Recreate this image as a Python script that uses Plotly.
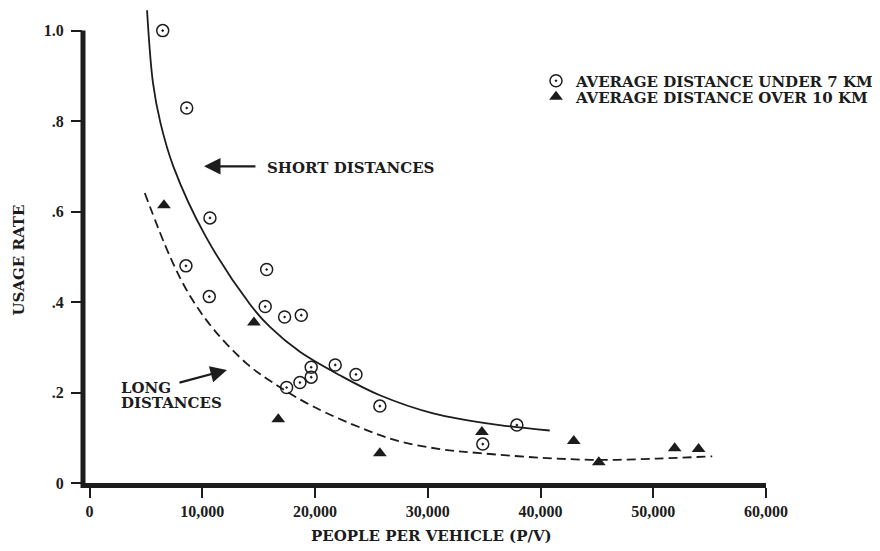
import plotly.graph_objects as go

# ---- data ----
short_x = [6490, 8620, 10680, 8550, 10620, 15710, 15580, 17300, 18780, 19660, 19660,
           18660, 17480, 21790, 23630, 25750, 34880, 37900]
short_y = [1.0, 0.829, 0.586, 0.480, 0.412, 0.472, 0.390, 0.367, 0.371, 0.256, 0.234,
           0.222, 0.211, 0.261, 0.240, 0.170, 0.086, 0.128]

long_x = [6600, 14580, 16740, 25750, 34800, 42950, 45170, 51900, 54020]
long_y = [0.614, 0.355, 0.141, 0.066, 0.113, 0.093, 0.046, 0.077, 0.075]

short_curve_x = [5100, 5630, 6290, 7430, 10240, 14230, 16000, 18660,
                 22210, 25750, 30480, 36390, 40820]
short_curve_y = [1.045, 0.884, 0.796, 0.700, 0.548, 0.395, 0.345, 0.290,
                 0.238, 0.194, 0.154, 0.128, 0.116]

long_curve_x = [4900, 7200, 9000, 11100, 13940, 16300, 19840, 24570, 27530, 31070,
                34630, 39960, 45170, 50350, 55230]
long_curve_y = [0.641, 0.497, 0.410, 0.337, 0.264, 0.221, 0.169, 0.117, 0.092, 0.075,
                0.066, 0.056, 0.051, 0.054, 0.059]

x_tickvals = [0, 10000, 20000, 30000, 40000, 50000, 60000]
x_ticktext = ["0", "10,000", "20,000", "30,000", "40,000", "50,000", "60,000"]
y_tickvals = [0, 0.2, 0.4, 0.6, 0.8, 1.0]
y_ticktext = ["0", ".2", ".4", ".6", ".8", "1.0"]

INK = "#1c1c1c"
X_RANGE = [-580, 60000]
Y_RANGE = [0, 1.05]

fig = go.Figure()

fig.add_trace(go.Scatter(
    x=short_curve_x, y=short_curve_y, mode="lines", line_shape="spline",
    line=dict(color=INK, width=1.8), showlegend=False, hoverinfo="skip"))
fig.add_trace(go.Scatter(
    x=long_curve_x, y=long_curve_y, mode="lines", line_shape="spline",
    line=dict(color=INK, width=1.8, dash="9px,5px"), showlegend=False, hoverinfo="skip"))

fig.add_trace(go.Scatter(
    x=short_x, y=short_y, mode="markers", name="AVERAGE DISTANCE UNDER 7 KM",
    marker=dict(symbol="circle-open-dot", size=12, color=INK, line=dict(width=1.5)),
    legend="legend"))
fig.add_trace(go.Scatter(
    x=long_x, y=long_y, mode="markers", name="AVERAGE DISTANCE OVER 10 KM",
    marker=dict(symbol="triangle-up", size=12, color=INK),
    legend="legend2"))

# page body has an 8px margin; figure is sized so it ends at the window edge
PAGE = 8
W, H = 880 - PAGE, 551 - PAGE
L, R, T, B = 75, 114, 0, 68
pw, ph = W - L - R, H - T - B


def px2paper(sx, sy):
    """screen pixel -> paper coordinate"""
    return (sx - PAGE - L) / pw, (H - B + PAGE - sy) / ph


lfont = dict(family="DejaVu Serif", size=15, color=INK, weight="bold")
tfont = dict(family="Liberation Serif", size=16, color=INK, weight="bold")

lx, ly1 = px2paper(536, 81)
_, ly2 = px2paper(536, 97)
legend_common = dict(xanchor="left", yanchor="middle", bgcolor="rgba(0,0,0,0)",
                     borderwidth=0, font=lfont, itemsizing="trace")

fig.update_layout(
    width=W, height=H,
    margin=dict(l=L, r=R, t=T, b=B),
    paper_bgcolor="white", plot_bgcolor="white",
    legend=dict(x=lx, y=ly1, **legend_common),
    legend2=dict(x=lx, y=ly2, **legend_common),
    xaxis=dict(range=X_RANGE, showgrid=False, zeroline=False,
               showline=True, linewidth=5, linecolor=INK,
               ticks="outside", ticklen=10, tickwidth=2, tickcolor=INK,
               tickvals=x_tickvals, ticktext=x_ticktext, tickfont=tfont),
    yaxis=dict(range=Y_RANGE, showgrid=False, zeroline=False, showline=False,
               ticks="outside", ticklen=11, tickwidth=2, tickcolor=INK,
               tickvals=y_tickvals, ticktext=y_ticktext, tickfont=tfont,
               ticklabelstandoff=4),
)

# y axis line: stops at 1.0 while the curve rises above it
fig.add_shape(type="line", xref="paper", yref="paper",
              x0=0, x1=0, y0=-0.0105, y1=1.0 / Y_RANGE[1],
              line=dict(color=INK, width=5), layer="above")

# axis titles
tx, ty = px2paper(431, 536)
fig.add_annotation(text="PEOPLE PER VEHICLE (P/V)", xref="paper", yref="paper",
                   x=tx, y=ty, showarrow=False, font=lfont,
                   xanchor="center", yanchor="middle")
tx, ty = px2paper(18.5, 260)
fig.add_annotation(text="USAGE RATE", xref="paper", yref="paper",
                   x=tx, y=ty, showarrow=False, font=lfont, textangle=-90,
                   xanchor="center", yanchor="middle")

# curve labels
fig.add_annotation(text="SHORT DISTANCES", x=15600, y=0.696, showarrow=False,
                   font=lfont, xanchor="left", yanchor="middle")
fig.add_annotation(text="", x=10150, y=0.700, ax=14850, ay=0.700, axref="x", ayref="y",
                   showarrow=True, arrowhead=2, arrowsize=1.5, arrowwidth=2.2,
                   arrowcolor=INK, standoff=0, startstandoff=0)
fig.add_annotation(text="LONG", x=2615, y=0.211, showarrow=False,
                   font=lfont, xanchor="left", yanchor="middle")
fig.add_annotation(text="DISTANCES", x=2615, y=0.176, showarrow=False,
                   font=lfont, xanchor="left", yanchor="middle")
fig.add_annotation(text="", x=12190, y=0.250, ax=7845, ay=0.221, axref="x", ayref="y",
                   showarrow=True, arrowhead=2, arrowsize=1.5, arrowwidth=2.2,
                   arrowcolor=INK, standoff=0, startstandoff=0)

fig.write_html("out.html")
